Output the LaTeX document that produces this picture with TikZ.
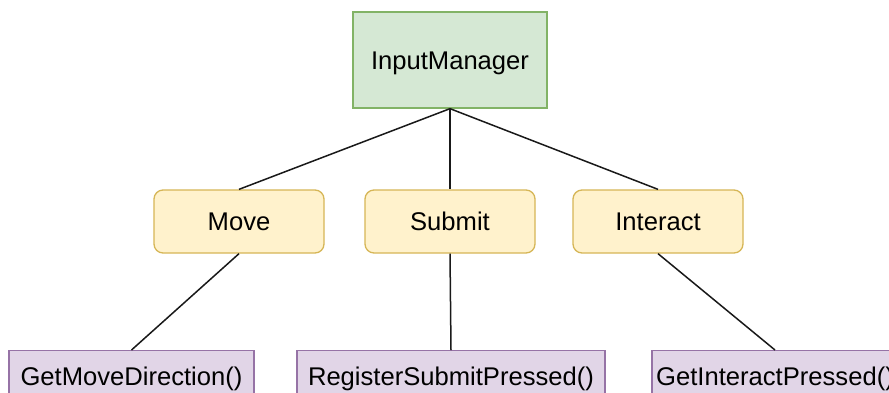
\documentclass[tikz,border=0pt]{standalone}
\usepackage{fontspec}
\setmainfont{Liberation Sans}
\definecolor{greenfill}{HTML}{D5E8D4}
\definecolor{greenline}{HTML}{82B366}
\definecolor{yellowfill}{HTML}{FFF2CC}
\definecolor{yellowline}{HTML}{D6B656}
\definecolor{purplefill}{HTML}{E1D5E7}
\definecolor{purpleline}{HTML}{9673A6}
\tikzset{
  box/.style={draw, line width=1.3pt, inner sep=0pt, text height=18.3pt, text depth=0pt,
    font=\fontsize{25.6}{30}\selectfont},
  rootbox/.style={box, fill=greenfill, draw=greenline, minimum width=194pt, minimum height=96pt},
  actionbox/.style={box, fill=yellowfill, draw=yellowline, rounded corners=9pt,
    minimum width=170pt, minimum height=63pt},
  methodbox/.style={box, fill=purplefill, draw=purpleline, minimum height=51pt},
  link/.style={line width=1.5pt, black!90}
}
\begin{document}
\begin{tikzpicture}[x=1pt,y=-1pt]
  \useasboundingbox (0,0) rectangle (889,392);
  \clip (0,0) rectangle (889,392);
  \fill[white] (0,0) rectangle (889,392);

  % root
  \node[rootbox] (root) at (450,60) {InputManager};

  % input actions
  \node[actionbox] (move) at (239,221.5) {Move};
  \node[actionbox] (submit) at (450,221.5) {Submit};
  \node[actionbox] (interact) at (658,221.5) {Interact};

  % methods (anchored at their top edge)
  \node[methodbox, minimum width=245pt, anchor=north] (getmove) at (131.5,350)
    {GetMoveDirection()};
  \node[methodbox, minimum width=308pt, anchor=north] (regsubmit) at (451,350)
    {RegisterSubmitPressed()};
  \node[methodbox, minimum width=246pt, anchor=north] (getinteract) at (775,350)
    {GetInteractPressed()};

  % connectors
  \draw[link] (root.south) -- (move.north);
  \draw[link] (root.south) -- (submit.north);
  \draw[link] (root.south) -- (interact.north);
  \draw[link] (move.south) -- (getmove.north);
  \draw[link] (submit.south) -- (regsubmit.north);
  \draw[link] (interact.south) -- (getinteract.north);
\end{tikzpicture}
\end{document}
